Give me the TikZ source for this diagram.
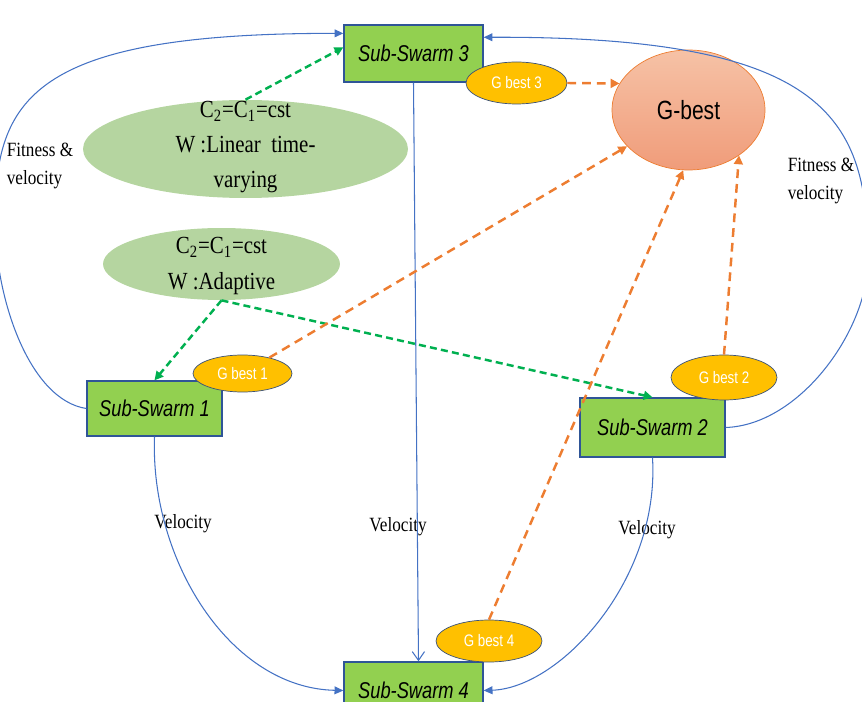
\documentclass[tikz,border=0pt]{standalone}
\usepackage{fontspec}
\setmainfont{Liberation Serif}[FakeStretch=0.85]
\newfontfamily\arialc{Liberation Sans}[FakeStretch=0.8]
\usetikzlibrary{arrows.meta,shapes.geometric}
\definecolor{boxgreen}{HTML}{92D050}
\definecolor{boxblue}{HTML}{2F5597}
\definecolor{lineblue}{HTML}{4472C4}
\definecolor{ovgreen}{HTML}{B5D5A0}
\definecolor{dashgreen}{HTML}{00B050}
\definecolor{gold}{HTML}{FFC000}
\definecolor{golddraw}{HTML}{3B5278}
\definecolor{orng}{HTML}{ED7D31}
\definecolor{gbtop}{HTML}{F6C2A6}
\definecolor{gbbot}{HTML}{F09C7A}

\begin{document}
\begin{tikzpicture}[x=0.02cm,y=-0.02cm]
\useasboundingbox (0,0) rectangle (862,702);

\begin{scope}[every node/.style={ellipse,fill=ovgreen,inner sep=0pt}]
    \node[minimum width=6.5cm,minimum height=1.96cm] (E1) at (245.5,149) {};
    \node[minimum width=4.74cm,minimum height=1.44cm] (E2) at (221.5,264) {};
\end{scope}

\begin{scope}[every node/.style={align=center,font=\fontsize{14}{20}\selectfont}]
    \node (T1) at (245.5,147) {C\textsubscript{2}=C\textsubscript{1}=cst\\W :Linear\ \ time-\\varying};
    \node (T2) at (221.5,266) {C\textsubscript{2}=C\textsubscript{1}=cst\\W :Adaptive};
\end{scope}

\begin{scope}[every node/.style={rectangle,draw=boxblue,fill=boxgreen,line width=0.8pt,
              font=\arialc\itshape\fontsize{13}{15}\selectfont}]
    \node[minimum width=2.78cm,minimum height=1.14cm] (S3) at (413.5,53.5) {Sub-Swarm 3};
    \node[minimum width=2.7cm,minimum height=1.1cm] (S1) at (154.5,408.5) {Sub-Swarm 1};
    \node[minimum width=2.9cm,minimum height=1.18cm] (S2) at (652.5,427.5) {Sub-Swarm 2};
    \node[minimum width=2.78cm,minimum height=1.14cm] (S4) at (413.5,690.5) {Sub-Swarm 4};
\end{scope}

\begin{scope}[every node/.style={ellipse,draw=golddraw,fill=gold,inner sep=0pt,text=white,
              font=\arialc\fontsize{9.5}{11}\selectfont}]
    \node[minimum width=2.02cm,minimum height=0.84cm] (G3) at (516.5,83) {G best 3};
    \node[minimum width=1.98cm,minimum height=0.74cm] (G1) at (242.5,373.5) {G best 1};
    \node[minimum width=2.12cm,minimum height=0.9cm] (G2) at (724,377.5) {G best 2};
    \node[minimum width=2.12cm,minimum height=0.84cm] (G4) at (489,641) {G best 4};
\end{scope}

\node[ellipse,draw=orng,top color=gbtop,bottom color=gbbot,minimum width=3.06cm,minimum height=2.4cm,
      font=\arialc\fontsize{15}{18}\selectfont] (GB) at (688.5,110) {G-best};

\begin{scope}[every node/.style={font=\fontsize{11.5}{15.5}\selectfont,align=left}]
    \node (FL) at (40,166) {Fitness \&\\velocity};
    \node (FR) at (821,181) {Fitness \&\\velocity};
    \node (V1) at (183,524) {Velocity};
    \node (V2) at (398,527) {Velocity};
    \node (V3) at (647,530) {Velocity};
\end{scope}

\begin{scope}[draw=lineblue,line width=0.6pt,-{Triangle[length=5pt,width=4.5pt]}]
    \draw (S1.west) .. controls (30,400) and (-5,300) .. (-5,220)
          .. controls (-5,100) and (30,33) .. (S3.164);
    \draw (S2.east) .. controls (800,425) and (868,330) .. (868,260)
          .. controls (868,120) and (830,36) .. (S3.13);
    \draw (S1.south) .. controls (150,560) and (230,688) .. (S4.west);
    \draw (S2.south) .. controls (660,580) and (560,688) .. (S4.east);
    \draw[-{Straight Barb[length=5pt,width=7pt]}] (S3.south) -- ([xshift=0.1cm]S4.north);
\end{scope}

\begin{scope}[every edge/.style={draw=dashgreen,line width=1.4pt,dash pattern=on 4pt off 2.4pt,
              -{Triangle[length=5pt,width=5pt]}}]
    \path (E1.north) edge (S3.175);
    \path (E2.south) edge (S1.north);
    \path (E2.south) edge (S2.north);
\end{scope}

\begin{scope}[every edge/.style={draw=orng,line width=1.4pt,dash pattern=on 5pt off 3.4pt,
              -{Triangle[length=5pt,width=5pt]}}]
    \path (G3.east) edge (GB.159);
    \path (G1) edge (GB);
    \path (G4.north) edge (GB.265);
    \path (G2.north) edge (GB.318);
\end{scope}
\end{tikzpicture}
\end{document}
